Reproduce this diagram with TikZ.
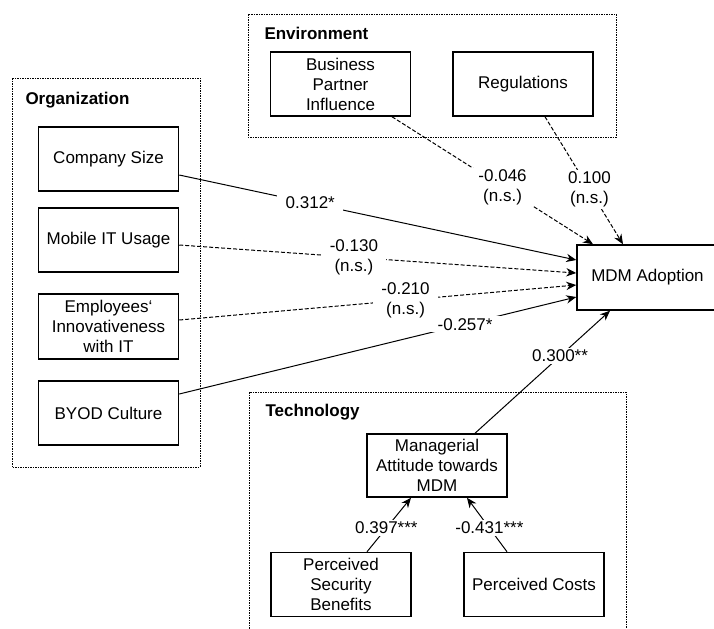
\documentclass[tikz,border=0pt]{standalone}
\usepackage{fontspec}
\setmainfont{Liberation Sans}
\usetikzlibrary{arrows.meta}

\tikzset{
  factor/.style={draw=black,line width=0.9pt,minimum width=84pt,minimum height=38.4pt,inner sep=1pt,align=center,font=\fontsize{10.2}{12}\selectfont},
  group/.style={-,draw=black,line width=0.6pt,dash pattern=on 0.9pt off 0.6pt},
  grouptitle/.style={anchor=west,inner sep=0pt,font=\fontsize{10.2}{12}\selectfont\bfseries},
  coef/.style={fill=white,align=center,inner xsep=5pt,inner ysep=1pt,font=\fontsize{10.2}{12}\selectfont},
  ns/.style={dash pattern=on 2.4pt off 1.2pt}
}

\begin{document}
\begin{tikzpicture}
[x=0.6pt,y=-0.6pt,->,>={Stealth[length=6pt,width=5pt]},line width=0.6pt]
\useasboundingbox (0,0) rectangle (714,628);
% dotted frames
\draw[group] (12,78) rectangle (200,467);
\draw[group] (248,14) rectangle (616,137);
\draw[group] (249,392) rectangle (626,640);
\node[grouptitle] (orgtitle) at (25,100) {Organization};
\node[grouptitle] (envtitle) at (264,33) {Environment};
\node[grouptitle] (techtitle) at (265,412) {Technology};
% organization
\node[factor] (size) at (108.5,159) {Company Size};
\node[factor] (mobile) at (108.5,240) {Mobile IT Usage};
\node[factor,minimum height=39pt] (innov) at (108.5,326.5) {Employees‘\\Innovativeness\\with IT};
\node[factor] (byod) at (108.5,413) {BYOD Culture};
% environment
\node[factor] (partner) at (340.5,84) {Business\\Partner\\Influence};
\node[factor] (regul) at (523,84) {Regulations};
% technology
\node[factor,minimum height=37.8pt] (attitude) at (437,465.5) {Managerial\\Attitude towards\\MDM};
\node[factor] (security) at (341,584.5) {Perceived\\Security\\Benefits};
\node[factor] (costs) at (534,584.5) {Perceived Costs};
% outcome
\node[factor,minimum width=84.6pt,minimum height=39pt] (adoption) at (647.5,277.5) {MDM Adoption};
% paths
\draw ([yshift=-9.6pt]size.east) -- node[coef,pos=0.33] {0.312*} ([yshift=10.5pt]adoption.west);
\draw[ns] ([yshift=-3pt]mobile.east) -- node[coef,pos=0.44] {-0.130\\(n.s.)} ([yshift=2.7pt]adoption.west);
\draw[ns] ([yshift=3.9pt]innov.east) -- node[coef,pos=0.57] {-0.210\\(n.s.)} ([yshift=-4.5pt]adoption.west);
\draw ([yshift=11.4pt]byod.east) -- node[coef,pos=0.72] {-0.257*} ([yshift=-11.7pt]adoption.west);
\draw[ns] ([xshift=30.9pt]partner.south) -- node[coef,pos=0.55] {-0.046\\(n.s.)} ([xshift=-32.7pt]adoption.north);
\draw[ns] ([xshift=13.2pt]regul.south) -- node[coef,pos=0.57] {0.100\\(n.s.)} ([xshift=-14.7pt]adoption.north);
\draw ([xshift=22.8pt]attitude.north) -- node[coef,pos=0.63] {0.300**} ([xshift=-22.5pt]adoption.south);
\draw ([xshift=15.6pt]security.north) -- node[coef,pos=0.44] {0.397***} ([xshift=-15.6pt]attitude.south);
\draw ([xshift=-16.2pt]costs.north) -- node[coef,pos=0.44] {-0.431***} ([xshift=18pt]attitude.south);
\end{tikzpicture}
\end{document}
